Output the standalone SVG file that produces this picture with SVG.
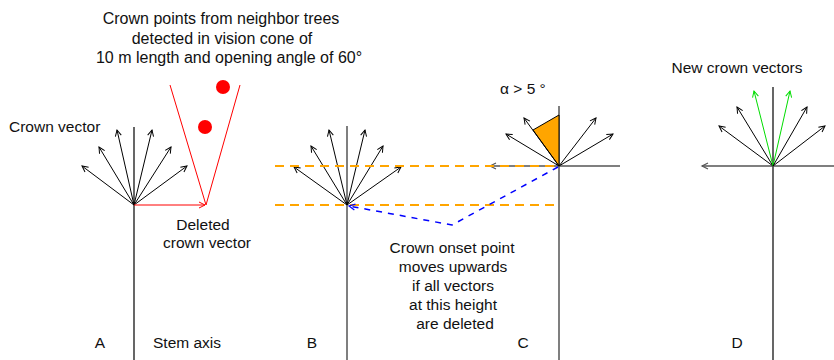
<svg xmlns="http://www.w3.org/2000/svg" width="834" height="360" viewBox="0 0 834 360">
<defs>
<marker id="ah" markerUnits="userSpaceOnUse" markerWidth="12" markerHeight="12" refX="0" refY="0" viewBox="-8 -6 10 12" orient="auto" overflow="visible">
<path d="M-6,-3 L0,0 L-6,3" fill="none" stroke="#000" stroke-width="1"/>
</marker>
<marker id="ahr" markerUnits="userSpaceOnUse" markerWidth="12" markerHeight="12" refX="0" refY="0" viewBox="-8 -6 10 12" orient="auto" overflow="visible">
<path d="M-6,-3 L0,0 L-6,3" fill="none" stroke="#f00" stroke-width="1"/>
</marker>
<marker id="ahg" markerUnits="userSpaceOnUse" markerWidth="12" markerHeight="12" refX="0" refY="0" viewBox="-8 -6 10 12" orient="auto" overflow="visible">
<path d="M-6,-3 L0,0 L-6,3" fill="none" stroke="#0d0" stroke-width="1"/>
</marker>
<marker id="ahb" markerUnits="userSpaceOnUse" markerWidth="12" markerHeight="12" refX="0" refY="0" viewBox="-8 -6 10 12" orient="auto" overflow="visible">
<path d="M-6,-3 L0,0 L-6,3" fill="none" stroke="#00f" stroke-width="1.2"/>
</marker>
<marker id="ahk" markerUnits="userSpaceOnUse" markerWidth="12" markerHeight="12" refX="0" refY="0" viewBox="-8 -6 10 12" orient="auto" overflow="visible">
<path d="M-6,-3 L0,0 L-6,3" fill="none" stroke="#555" stroke-width="1.2"/>
</marker>
</defs>
<style>
text{font-family:"Liberation Sans",Arial,sans-serif;font-size:15.5px;fill:#111}
.c{text-anchor:middle}
.t{font-size:16px}
.vec{stroke:#000;stroke-width:1;fill:none;marker-end:url(#ah)}
.gvec{stroke:#0d0;stroke-width:1;fill:none;marker-end:url(#ahg)}
.stem{stroke:#000;stroke-width:1.2}
.gstem{stroke:#555;stroke-width:1.5}
.odash{stroke:#FFA500;stroke-width:2;stroke-dasharray:9,6;fill:none}
</style>

<g id="titles">
<text class="c t" x="221" y="24">Crown points from neighbor trees</text>
<text class="c t" x="222" y="44">detected in vision cone of</text>
<text class="c t" x="229" y="63">10 m length and opening angle of 60°</text>
</g>

<g id="panelA">
<line class="stem" x1="134" y1="127" x2="134" y2="360"/>
<line class="vec" x1="134" y1="205" x2="82" y2="166"/>
<line class="vec" x1="134" y1="205" x2="99" y2="147"/>
<line class="vec" x1="134" y1="205" x2="117" y2="130"/>
<line class="vec" x1="134" y1="205" x2="152" y2="130"/>
<line class="vec" x1="134" y1="205" x2="171" y2="147"/>
<line class="vec" x1="134" y1="205" x2="187" y2="166"/>
<line x1="134" y1="205" x2="205" y2="205" stroke="#f00" stroke-width="1" marker-end="url(#ahr)"/>
<polyline points="170,85 206,205 240,85" fill="none" stroke="#f00" stroke-width="1"/>
<circle cx="223" cy="87" r="7" fill="#f00"/>
<circle cx="205" cy="127" r="7" fill="#f00"/>
<text x="9" y="132">Crown vector</text>
<text class="c" x="203" y="230">Deleted</text>
<text class="c" x="207" y="248">crown vector</text>
<text class="c" x="100" y="348">A</text>
<text x="153" y="348">Stem axis</text>
</g>

<g id="panelB">
<line class="gstem" x1="347" y1="126" x2="347" y2="360"/>
<line class="vec" x1="347" y1="205" x2="294" y2="167"/>
<line class="vec" x1="347" y1="205" x2="311" y2="146"/>
<line class="vec" x1="347" y1="205" x2="329" y2="130"/>
<line class="vec" x1="347" y1="205" x2="365" y2="130"/>
<line class="vec" x1="347" y1="205" x2="383" y2="146"/>
<line class="vec" x1="347" y1="205" x2="401" y2="167"/>
<text class="c" x="312" y="348">B</text>
</g>

<g id="panelC">
<line class="gstem" x1="559" y1="106" x2="559" y2="360"/>
<line class="gstem" x1="559" y1="166" x2="620" y2="166"/>
<line x1="559" y1="166" x2="490" y2="166" stroke="#555" stroke-width="1.5" marker-end="url(#ahk)"/>
<polygon points="559,166 559,115 533,130" fill="#FFA500" stroke="#000" stroke-width="1"/>
<line class="vec" x1="559" y1="166" x2="506" y2="134"/>
<line class="vec" x1="559" y1="166" x2="524" y2="118"/>
<line class="vec" x1="559" y1="166" x2="596" y2="118"/>
<line class="vec" x1="559" y1="166" x2="613" y2="134"/>
<text x="500" y="94">α &gt; 5 °</text>
<text class="c" x="523" y="348">C</text>
</g>

<g id="panelD">
<line class="stem" x1="773" y1="87" x2="773" y2="360"/>
<line class="gstem" x1="773" y1="166" x2="834" y2="166"/>
<line x1="773" y1="166" x2="702" y2="166" stroke="#555" stroke-width="1.5" marker-end="url(#ahk)"/>
<line class="vec" x1="773" y1="166" x2="719" y2="126"/>
<line class="vec" x1="773" y1="166" x2="737" y2="107"/>
<line class="gvec" x1="773" y1="166" x2="754" y2="91"/>
<line class="gvec" x1="773" y1="166" x2="790" y2="91"/>
<line class="vec" x1="773" y1="166" x2="807" y2="107"/>
<line class="vec" x1="773" y1="166" x2="825" y2="126"/>
<text class="c" x="737" y="73">New crown vectors</text>
<text class="c" x="737" y="348">D</text>
</g>

<g id="connectors">
<line class="odash" x1="275" y1="166" x2="556" y2="166"/>
<line class="odash" x1="275" y1="205" x2="556" y2="205"/>
<polyline points="558,167 452,225 349,206" fill="none" stroke="#00f" stroke-width="1.5" stroke-dasharray="6,6" marker-end="url(#ahb)"/>
</g>

<g id="note">
<text class="c" x="452" y="253">Crown onset point</text>
<text class="c" x="453" y="272">moves upwards</text>
<text class="c" x="453" y="291">if all vectors</text>
<text class="c" x="453" y="310">at this height</text>
<text class="c" x="455" y="329">are deleted</text>
</g>
</svg>
